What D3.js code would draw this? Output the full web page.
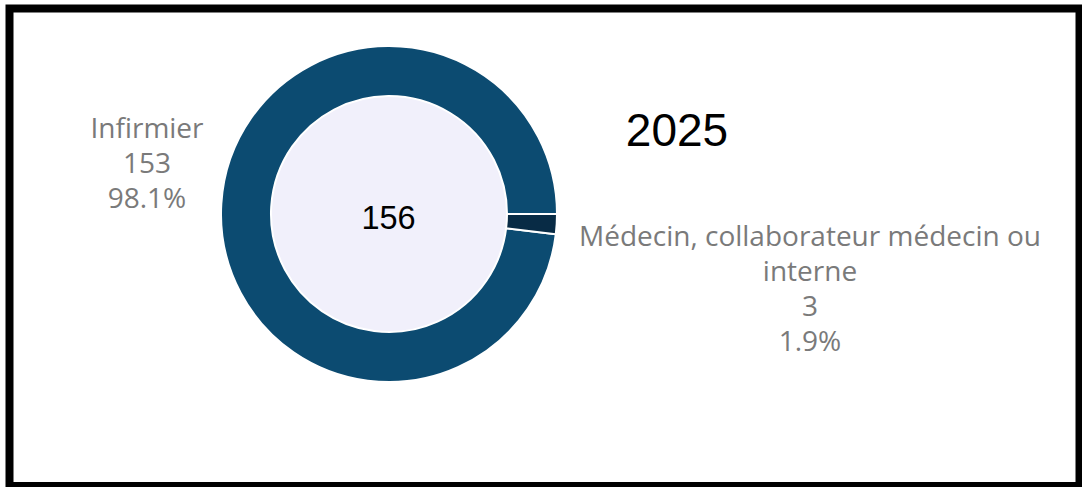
<!DOCTYPE html>
<html>
<head>
<meta charset="utf-8">
<script src="https://cdn.jsdelivr.net/npm/d3@7"></script>
<style>
  html, body { margin: 0; padding: 0; background: #ffffff; }
  svg { display: block; }
</style>
</head>
<body>
<svg id="chart" width="1082" height="487"></svg>
<script>
const categories = ["Infirmier", "Médecin, collaborateur médecin ou interne"];
const labelLines = [["Infirmier"], ["Médecin, collaborateur médecin ou", "interne"]];
const values = [153, 3];
const percents = ["98.1%", "1.9%"];
const colors = ["#0c4b71", "#082b45"];
const title = "2025";
const total = 156;

const svg = d3.select("#chart");

// border frame
svg.append("rect")
  .attr("x", 9.5).attr("y", 8.5)
  .attr("width", 1070).attr("height", 477.5)
  .attr("fill", "#ffffff")
  .attr("stroke", "#000000")
  .attr("stroke-width", 8);

const cx = 389, cy = 214;
const rOuter = 168, rInner = 118;

const data = categories.map((c, i) => ({ name: c, value: values[i], i }));

const pie = d3.pie()
  .value(d => d.value)
  .sort((a, b) => a.value - b.value)
  .startAngle(Math.PI / 2)
  .endAngle(Math.PI / 2 + 2 * Math.PI);

const arc = d3.arc().innerRadius(rInner).outerRadius(rOuter);

const g = svg.append("g").attr("transform", `translate(${cx},${cy})`);

g.append("circle")
  .attr("r", rInner)
  .attr("fill", "#f1f0fb");

g.selectAll("path.slice")
  .data(pie(data))
  .join("path")
  .attr("class", "slice")
  .attr("d", arc)
  .attr("fill", d => colors[d.data.i])
  .attr("stroke", "#ffffff")
  .attr("stroke-width", 2)
  .attr("stroke-linejoin", "round");

g.append("text")
  .attr("x", -0.5).attr("y", 15)
  .attr("text-anchor", "middle")
  .attr("font-family", "Liberation Sans, Arial, sans-serif")
  .attr("font-size", 32.5)
  .attr("fill", "#000000")
  .text(total);

svg.append("text")
  .attr("x", 677).attr("y", 146)
  .attr("text-anchor", "middle")
  .attr("font-family", "Liberation Sans, Arial, sans-serif")
  .attr("font-size", 46)
  .attr("fill", "#000000")
  .text(title);

const labelPos = [{ x: 147, y: 138 }, { x: 810, y: 246 }];
const lh = 35;
data.forEach((d, i) => {
  const lines = labelLines[i].concat([String(values[i]), percents[i]]);
  const t = svg.append("text")
    .attr("text-anchor", "middle")
    .attr("font-family", "Open Sans, sans-serif")
    .attr("font-size", 28)
    .attr("fill", "#7a7a7a");
  lines.forEach((ln, k) => {
    t.append("tspan")
      .attr("x", labelPos[i].x)
      .attr("y", labelPos[i].y + k * lh)
      .text(ln);
  });
});
</script>
</body>
</html>
